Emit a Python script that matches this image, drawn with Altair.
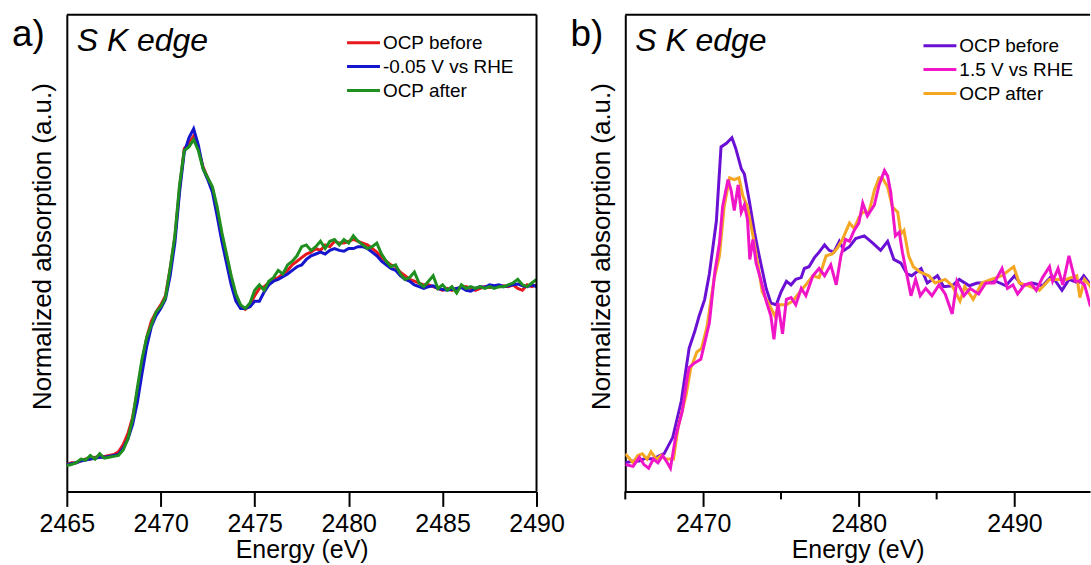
import altair as alt
import pandas as pd

# ---------------- data ----------------
E_A = [2465.0, 2465.25, 2465.5, 2465.75, 2466.0, 2466.25, 2466.5, 2466.75, 2467.0, 2467.25,
       2467.5, 2467.75, 2468.0, 2468.25, 2468.5, 2468.75, 2469.0, 2469.25, 2469.5, 2469.75,
       2470.0, 2470.25, 2470.5, 2470.75, 2471.0, 2471.25, 2471.5, 2471.75, 2472.0, 2472.25,
       2472.5, 2472.75, 2473.0, 2473.25, 2473.5, 2473.75, 2474.0, 2474.25, 2474.5, 2474.75,
       2475.0, 2475.25, 2475.5, 2475.75, 2476.0, 2476.25, 2476.5, 2476.75, 2477.0, 2477.25,
       2477.5, 2477.75, 2478.0, 2478.25, 2478.5, 2478.75, 2479.0, 2479.25, 2479.5, 2479.75,
       2480.0, 2480.25, 2480.5, 2480.75, 2481.0, 2481.25, 2481.5, 2481.75, 2482.0, 2482.25,
       2482.5, 2482.75, 2483.0, 2483.25, 2483.5, 2483.75, 2484.0, 2484.25, 2484.5, 2484.75,
       2485.0, 2485.25, 2485.5, 2485.75, 2486.0, 2486.25, 2486.5, 2486.75, 2487.0, 2487.25,
       2487.5, 2487.75, 2488.0, 2488.25, 2488.5, 2488.75, 2489.0, 2489.25, 2489.5, 2489.75,
       2490.0]

RED_A = [0.00, 0.01, 0.01, 0.02, 0.03, 0.03, 0.04, 0.04, 0.045, 0.05,
         0.055, 0.07, 0.11, 0.17, 0.26, 0.40, 0.56, 0.70, 0.79, 0.84,
         0.88, 0.93, 1.08, 1.25, 1.52, 1.74, 1.77, 1.81, 1.74, 1.64,
         1.58, 1.52, 1.40, 1.26, 1.15, 1.03, 0.93, 0.87, 0.855, 0.88,
         0.93, 0.97, 0.98, 1.00, 1.02, 1.03, 1.05, 1.07, 1.10, 1.12,
         1.14, 1.16, 1.17, 1.19, 1.18, 1.21, 1.20, 1.23, 1.22, 1.22,
         1.23, 1.24, 1.23, 1.22, 1.21, 1.19, 1.17, 1.14, 1.12, 1.10,
         1.09, 1.06, 1.04, 1.02, 1.01, 1.00, 0.99, 0.99, 0.98, 0.97,
         0.96, 0.97, 0.96, 0.97, 0.975, 0.98, 0.97, 0.96, 0.97, 0.98,
         0.975, 0.98, 0.98, 0.985, 0.98, 0.99, 0.97, 0.96, 0.99, 0.98,
         0.99]

BLUE_A = [0.00, 0.005, 0.01, 0.02, 0.025, 0.03, 0.035, 0.04, 0.04, 0.045,
          0.05, 0.055, 0.09, 0.14, 0.22, 0.34, 0.50, 0.65, 0.76, 0.82,
          0.86, 0.91, 1.04, 1.22, 1.50, 1.72, 1.80, 1.85, 1.76, 1.63,
          1.57, 1.50, 1.37, 1.23, 1.11, 0.99, 0.90, 0.86, 0.86, 0.87,
          0.90, 0.90, 0.95, 0.99, 1.01, 1.02, 1.035, 1.05, 1.07, 1.09,
          1.10, 1.13, 1.15, 1.16, 1.17, 1.16, 1.18, 1.19, 1.18, 1.175,
          1.19, 1.19, 1.20, 1.20, 1.19, 1.17, 1.15, 1.12, 1.10, 1.08,
          1.07, 1.04, 1.02, 1.01, 0.99, 0.98, 0.97, 0.98, 0.985, 0.97,
          0.965, 0.96, 0.965, 0.97, 0.975, 0.96, 0.955, 0.97, 0.98, 0.975,
          0.99, 0.985, 0.99, 0.98, 0.985, 0.99, 0.995, 0.985, 0.98, 0.99,
          0.98]

GREEN_A = [-0.005, 0.00, 0.01, 0.03, 0.025, 0.05, 0.03, 0.06, 0.035, 0.04,
           0.045, 0.05, 0.08, 0.14, 0.25, 0.42, 0.58, 0.70, 0.77, 0.84,
           0.87, 0.92, 1.08, 1.26, 1.54, 1.73, 1.75, 1.79, 1.73, 1.63,
           1.58, 1.53, 1.42, 1.28, 1.16, 1.04, 0.94, 0.88, 0.86, 0.89,
           0.96, 0.99, 0.96, 1.01, 1.03, 1.07, 1.05, 1.10, 1.12, 1.15,
           1.20, 1.21, 1.18, 1.20, 1.23, 1.19, 1.23, 1.24, 1.21, 1.24,
           1.22, 1.26, 1.23, 1.21, 1.19, 1.20, 1.22, 1.16, 1.12, 1.09,
           1.10, 1.05, 1.02, 1.03, 1.06, 1.00, 0.98, 1.01, 1.04, 0.97,
           0.99, 0.96, 0.98, 0.945, 0.99, 0.97, 0.98, 0.97, 0.98, 0.97,
           0.98, 0.97, 0.98, 0.98, 0.99, 1.00, 1.02, 0.99, 0.98, 1.00,
           1.02]

PURPLE_E = [2465.0, 2465.5, 2465.9, 2466.3, 2466.8, 2467.2, 2467.5, 2468.05, 2468.6, 2469.1,
            2469.45, 2469.75, 2470.1, 2470.4, 2470.85, 2471.15, 2471.5, 2471.85, 2472.1, 2472.45,
            2472.65, 2472.95, 2473.3, 2473.6, 2474.05, 2474.35, 2474.7, 2475.0, 2475.35, 2475.65,
            2475.95, 2476.3, 2476.5, 2476.8, 2477.15, 2477.45, 2477.8, 2478.1, 2478.4, 2478.75,
            2479.05, 2479.4, 2479.8, 2480.35, 2480.9, 2481.4, 2481.85, 2482.25, 2482.7, 2483.1,
            2483.4, 2484.0, 2484.4, 2485.05, 2485.45, 2486.0, 2486.45, 2487.1, 2487.6, 2488.15,
            2488.8, 2489.45, 2490.0, 2490.5, 2491.15, 2491.8, 2492.4, 2493.05, 2493.5, 2494.1,
            2494.45, 2494.8, 2495.2]
PURPLE_V = [0.01, 0.02, 0.02, 0.035, 0.03, 0.05, 0.06, 0.15, 0.35, 0.64,
            0.73, 0.82, 0.91, 1.05, 1.34, 1.75, 1.77, 1.80, 1.74, 1.63,
            1.60, 1.46, 1.28, 1.15, 0.97, 0.89, 0.88, 0.95, 1.01, 0.99,
            1.02, 1.03, 1.08, 1.09, 1.14, 1.17, 1.21, 1.18, 1.17, 1.23,
            1.18, 1.20, 1.245, 1.26, 1.22, 1.18, 1.23, 1.13, 1.11, 1.05,
            1.04, 1.08, 1.00, 1.04, 0.98, 0.985, 1.02, 0.985, 1.00, 1.00,
            1.01, 0.985, 1.04, 0.985, 1.00, 0.985, 1.04, 0.96, 1.02, 1.00,
            1.04, 1.00, 0.99]

MAGENTA_E = [2465.0, 2465.5, 2465.9, 2466.2, 2466.5, 2466.8, 2467.1, 2467.4, 2467.7, 2467.9,
             2468.25, 2468.65, 2469.0, 2469.1, 2469.45, 2469.85, 2470.1, 2470.4, 2470.75, 2471.05,
             2471.25, 2471.6, 2471.8, 2472.0, 2472.25, 2472.45, 2472.65, 2472.85, 2473.0, 2473.2,
             2473.4, 2473.7, 2474.05, 2474.35, 2474.55, 2474.8, 2475.1, 2475.35, 2475.65, 2475.95,
             2476.3, 2476.6, 2477.05, 2477.45, 2477.8, 2478.2, 2478.55, 2478.85, 2479.15, 2479.4,
             2479.7, 2480.0, 2480.25, 2480.55, 2481.0, 2481.3, 2481.65, 2481.85, 2482.05, 2482.35,
             2482.6, 2482.8, 2483.1, 2483.35, 2483.65, 2483.95, 2484.3, 2484.7, 2485.15, 2485.55,
             2486.0, 2486.3, 2486.75, 2487.15, 2487.7, 2488.15, 2488.7, 2489.2, 2489.55, 2489.9,
             2490.2, 2490.65, 2491.05, 2491.4, 2491.8, 2492.25, 2492.45, 2492.8, 2493.1, 2493.5,
             2493.9, 2494.2, 2494.5, 2494.85, 2495.2]
MAGENTA_V = [0.00, -0.01, 0.04, 0.00, -0.02, 0.03, 0.01, 0.05, 0.01, -0.02,
             0.16, 0.29, 0.49, 0.535, 0.56, 0.58, 0.67, 0.78, 1.06, 1.22,
             1.42, 1.57, 1.51, 1.40, 1.54, 1.39, 1.43, 1.35, 1.13, 1.24,
             1.11, 1.02, 0.90, 0.82, 0.69, 0.89, 0.72, 0.91, 0.92, 0.88,
             0.97, 0.93, 1.04, 1.08, 1.04, 1.10, 0.99, 1.15, 1.24, 1.23,
             1.29, 1.33, 1.44, 1.37, 1.43, 1.54, 1.62, 1.59, 1.50, 1.26,
             1.28, 1.17, 1.04, 0.93, 1.02, 0.93, 0.97, 0.93, 0.99, 0.94,
             0.83, 1.01, 0.93, 0.97, 0.94, 1.00, 1.00, 1.08, 0.97, 0.99,
             0.94, 0.99, 1.00, 0.96, 1.03, 1.09, 1.01, 1.08, 0.99, 1.15,
             1.01, 1.01, 0.99, 0.88, 0.90]

ORANGE_E = [2465.0, 2465.5, 2465.8, 2466.1, 2466.4, 2466.65, 2467.0, 2467.3, 2467.6, 2468.1,
            2468.4, 2468.9, 2469.2, 2469.6, 2469.9, 2470.25, 2470.7, 2471.05, 2471.35, 2471.7,
            2472.0, 2472.3, 2472.55, 2472.85, 2473.2, 2473.5, 2473.8, 2474.25, 2474.6, 2474.9,
            2475.35, 2475.75, 2476.2, 2476.6, 2477.05, 2477.45, 2477.9, 2478.3, 2478.6, 2478.95,
            2479.4, 2479.7, 2480.0, 2480.25, 2480.65, 2481.0, 2481.3, 2481.5, 2481.85, 2482.15,
            2482.5, 2482.7, 2482.9, 2483.2, 2483.5, 2483.95, 2484.5, 2484.9, 2485.55, 2486.0,
            2486.5, 2486.8, 2487.35, 2487.9, 2488.5, 2489.2, 2489.95, 2490.3, 2490.9, 2491.6,
            2492.25, 2492.8, 2493.3, 2494.0, 2494.2, 2494.5, 2494.85, 2495.2]
ORANGE_V = [0.06, 0.01, 0.05, 0.06, 0.03, 0.07, 0.03, 0.05, 0.03, 0.03,
            0.21, 0.38, 0.53, 0.62, 0.64, 0.76, 1.02, 1.15, 1.42, 1.58,
            1.57, 1.58, 1.48, 1.42, 1.26, 1.11, 0.95, 0.88, 0.82, 0.88,
            0.88, 0.90, 0.95, 0.99, 1.04, 1.03, 1.15, 1.16, 1.19, 1.24,
            1.33, 1.30, 1.36, 1.39, 1.39, 1.51, 1.58, 1.58, 1.53, 1.42,
            1.39, 1.27, 1.29, 1.15, 1.09, 1.06, 1.04, 1.00, 1.02, 0.985,
            0.90, 0.98, 0.91, 1.00, 1.02, 1.04, 1.09, 1.00, 0.985, 0.96,
            1.02, 1.02, 1.02, 1.04, 0.92, 1.02, 0.985, 0.90]

SERIES_A = ["OCP before", "-0.05 V vs RHE", "OCP after"]
COLORS_A = ["#e8191c", "#1515cc", "#1f901f"]
SERIES_B = ["OCP before", "1.5 V vs RHE", "OCP after"]
COLORS_B = ["#6a10d4", "#f016c8", "#f5a623"]

TICKS_A = [2465, 2470, 2475, 2480, 2485, 2490]
TICKS_B = [2470, 2480, 2490]
MINOR_B = [2465, 2475, 2485]
XDOM_A = [2465, 2490]
XDOM_B = [2465, 2494.85]
YDOM = [-0.148, 2.478]

FONT = "Liberation Sans"
H = 478
W_A = 471
W_B = 466


def build_panel(df, series, colors, width, xdom, ticks, letter, leg_x, leg_y, minor=None, right_border=True):
    color = alt.Color("series:N", scale=alt.Scale(domain=series, range=colors), legend=None)
    x = alt.X("E:Q", scale=alt.Scale(domain=xdom, nice=False, zero=False),
              axis=alt.Axis(values=ticks, title="Energy (eV)", format="d", tickSize=15,
                            labelPadding=5, titlePadding=1, grid=False, labelFlush=False,
                            labelFont=FONT, titleFont=FONT, labelFontSize=25, titleFontSize=25,
                            titleFontWeight="normal", labelColor="black", titleColor="black",
                            domainColor="black", domainWidth=2, tickColor="black", tickWidth=2))
    y = alt.Y("v:Q", scale=alt.Scale(domain=YDOM, nice=False, zero=False),
              axis=alt.Axis(title="Normalized absorption (a.u.)", labels=False, ticks=False,
                            grid=False, titlePadding=11, titleFont=FONT, titleFontSize=26,
                            titleY=232, titleFontWeight="normal", titleColor="black",
                            domainColor="black", domainWidth=2))
    lines = alt.Chart(df).mark_line(strokeWidth=3, clip=True, interpolate="linear").encode(
        x=x, y=y, color=color, detail="series:N", order="idx:Q")
    one = pd.DataFrame({"d": [0]})
    layers = [lines]
    layers.append(alt.Chart(one).mark_rule(strokeWidth=2, color="black").encode(
        x=alt.value(0), x2=alt.value(width), y=alt.value(0)))
    if right_border:
        layers.append(alt.Chart(one).mark_rule(strokeWidth=2, color="black").encode(
            x=alt.value(width), y=alt.value(0), y2=alt.value(H)))
    if minor is not None:
        layers.append(alt.Chart(pd.DataFrame({"E": minor})).mark_rule(strokeWidth=2, color="black").encode(
            x=x, y=alt.value(H), y2=alt.value(H + 8)))
    layers.append(alt.Chart(pd.DataFrame({"t": ["S K edge"]})).mark_text(
        font=FONT, fontSize=32, fontStyle="italic", align="left", baseline="alphabetic", color="black").encode(
        text="t:N", x=alt.value(10), y=alt.value(36)))
    layers.append(alt.Chart(pd.DataFrame({"t": [letter]})).mark_text(
        font=FONT, fontSize=37, align="left", baseline="alphabetic", color="black").encode(
        text="t:N", x=alt.value(-55), y=alt.value(31)))
    for i, (s, c) in enumerate(zip(series, colors)):
        yy = leg_y + 24 * i
        layers.append(alt.Chart(one).mark_rule(strokeWidth=3, color=c).encode(
            x=alt.value(leg_x), x2=alt.value(leg_x + 33), y=alt.value(yy)))
        layers.append(alt.Chart(pd.DataFrame({"t": [s]})).mark_text(
            font=FONT, fontSize=19, align="left", baseline="middle", color="black").encode(
            text="t:N", x=alt.value(leg_x + 36), y=alt.value(yy)))
    return alt.layer(*layers).properties(width=width, height=H)


def make_df(parts, order):
    frames = []
    for name in order:
        e, v = parts[name]
        frames.append(pd.DataFrame({"E": e, "v": v, "series": name, "idx": list(range(len(e)))}))
    return pd.concat(frames, ignore_index=True)


df_a = make_df({"OCP before": (E_A, RED_A), "-0.05 V vs RHE": (E_A, BLUE_A), "OCP after": (E_A, GREEN_A)},
               ["OCP before", "-0.05 V vs RHE", "OCP after"])
df_b = make_df({"OCP before": (PURPLE_E, PURPLE_V), "1.5 V vs RHE": (MAGENTA_E, MAGENTA_V), "OCP after": (ORANGE_E, ORANGE_V)},
               ["OCP before", "OCP after", "1.5 V vs RHE"])

panel_a = build_panel(df_a, SERIES_A, COLORS_A, W_A, XDOM_A, TICKS_A, "a)", 281, 28)
panel_b = build_panel(df_b, SERIES_B, COLORS_B, W_B, XDOM_B, TICKS_B, "b)", 299, 31,
                      minor=MINOR_B, right_border=False)

chart = alt.hconcat(panel_a, panel_b, spacing=6).resolve_scale(
    color="independent", x="independent", y="independent"
).properties(
    padding={"left": 12, "top": 13, "right": 0, "bottom": 0},
    background="white"
).configure_view(stroke=None)

chart.save("out.html", embed_options={"renderer": "svg", "actions": False})
